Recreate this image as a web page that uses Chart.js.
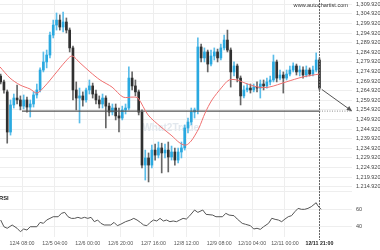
<!DOCTYPE html>
<html>
<head>
<meta charset="utf-8">
<script src="https://cdn.jsdelivr.net/npm/chart.js@4.4.0/dist/chart.umd.min.js"></script>
<style>
  html, body { margin: 0; padding: 0; background: #fff; }
  #wrap { position: relative; width: 380px; height: 250px; overflow: hidden; }
  #price { position: absolute; left: 0; top: 0; }
  #rsi { position: absolute; left: 0; top: 188px; }
</style>
</head>
<body>
<div id="wrap">
  <canvas id="price" width="380" height="188"></canvas>
  <canvas id="rsi" width="380" height="62"></canvas>
</div>
<script>
// hours counted from 12/4 00:00, one candle every 2 hours
const candleHours = [-5,-3,-1,1,3,5,7,9,11,13,15,17,19,21,23,25,27,29,31,33,35,37,39,41,43,45,47,49,51,53,
  55,57,59,61,63,65,67,69,71,73,75,77,79,81,83,85,87,89,91,93,95,97,99,101,103,105,107,109,111,113,
  115,117,119,121,123,125,127,129,131,133,135,137,139,141,143,145,147,149,151,153,155,157,159,161,163,165,167,169,171,173,
  175,177,179,181,183,185,187,189];
const opens = [1272.6,1269.5,1264.3,1243.4,1257.5,1261.1,1260.1,1256.9,1260.1,1256.4,1258.0,1262.7,1265.3,1275.7,1279.9,
  1283.5,1293.9,1299.1,1301.7,1298.1,1300.7,1296.5,1287.2,1265.3,1261.1,1262.2,1260.1,1265.3,1267.4,1263.2,
  1260.1,1258.0,1261.1,1256.9,1253.8,1255.9,1251.8,1250.7,1254.9,1255.9,1271.5,1267.4,1264.3,1253.8,1226.2,
  1229.9,1226.2,1234.0,1231.4,1235.1,1232.5,1234.0,1230.4,1233.0,1228.8,1233.0,1235.1,1245.5,1248.6,1253.8,
  1254.9,1287.7,1282.0,1285.1,1278.8,1283.0,1285.1,1282.0,1287.2,1291.3,1286.1,1274.7,1277.8,1271.5,1262.2,
  1265.3,1266.3,1265.3,1266.8,1266.3,1268.4,1267.4,1269.5,1270.5,1279.9,1271.5,1273.1,1271.5,1273.6,1275.7,
  1277.8,1274.7,1275.7,1273.1,1275.7,1273.6,1275.7,1280.9];
const highs = [1273.6,1270.5,1265.3,1260.1,1263.2,1267.9,1262.2,1262.7,1261.6,1260.1,1264.3,1268.4,1276.8,1285.1,1286.1,
  1295.5,1301.7,1305.4,1304.4,1305.9,1302.8,1297.6,1288.2,1269.5,1266.3,1264.3,1266.3,1270.5,1268.9,1265.3,
  1262.2,1263.2,1262.2,1258.5,1258.0,1258.0,1255.9,1256.9,1258.0,1277.3,1274.7,1270.5,1265.3,1254.9,1234.0,
  1232.5,1236.6,1237.1,1238.2,1237.6,1237.1,1238.2,1236.1,1235.1,1235.1,1238.2,1247.1,1250.7,1255.9,1255.9,
  1292.4,1289.2,1287.2,1286.1,1286.1,1287.2,1286.6,1289.2,1293.9,1296.5,1287.2,1279.9,1278.8,1272.6,1267.4,
  1268.4,1268.4,1268.4,1269.5,1270.5,1270.5,1271.5,1272.6,1283.5,1280.9,1275.7,1274.7,1275.7,1277.8,1279.4,
  1278.8,1277.8,1277.3,1277.8,1276.8,1277.8,1284.6,1282.0];
const lows = [1268.4,1263.7,1237.6,1241.8,1255.9,1258.0,1254.9,1255.4,1253.8,1251.2,1256.4,1261.1,1264.3,1274.7,1276.8,
  1282.0,1292.4,1296.5,1296.5,1295.5,1295.0,1285.1,1260.1,1254.9,1248.1,1256.9,1259.0,1263.2,1261.1,1258.0,
  1255.9,1255.9,1245.5,1251.8,1252.3,1249.7,1243.4,1249.7,1252.8,1254.9,1265.3,1262.2,1252.3,1224.7,1218.4,
  1217.4,1224.7,1228.8,1229.9,1222.1,1229.9,1222.6,1228.8,1226.2,1227.3,1229.9,1234.0,1242.9,1247.1,1250.7,
  1252.8,1279.9,1279.9,1274.7,1277.8,1280.9,1279.9,1280.9,1286.1,1285.1,1266.8,1272.6,1269.5,1257.5,1261.1,
  1264.3,1263.7,1264.3,1264.3,1261.1,1265.3,1266.3,1267.9,1269.5,1269.5,1270.5,1263.7,1270.5,1272.6,1274.7,
  1273.1,1272.6,1271.5,1272.1,1272.6,1272.6,1274.7,1265.3];
const closes = [1269.5,1265.3,1243.4,1257.5,1261.1,1260.1,1256.9,1260.1,1256.4,1258.0,1262.7,1265.3,1275.7,1279.9,1283.5,
  1293.9,1299.1,1301.7,1298.1,1300.7,1296.5,1287.2,1265.3,1261.1,1262.2,1260.1,1265.3,1267.4,1263.2,1260.1,
  1258.0,1261.1,1256.9,1253.8,1255.9,1251.8,1250.7,1254.9,1255.9,1271.5,1267.4,1264.3,1253.8,1226.2,1229.9,
  1226.2,1234.0,1231.4,1235.1,1232.5,1234.0,1230.4,1233.0,1228.8,1233.0,1235.1,1245.5,1248.6,1253.8,1254.9,
  1287.7,1282.0,1285.1,1278.8,1283.0,1285.1,1282.0,1287.2,1291.3,1286.1,1274.7,1277.8,1271.5,1262.2,1265.3,
  1266.3,1265.3,1266.8,1266.3,1268.4,1267.4,1269.5,1270.5,1279.9,1271.5,1273.1,1271.5,1273.6,1275.7,1277.8,
  1274.7,1275.7,1273.1,1275.7,1273.6,1275.7,1280.9,1266.3];

// red moving average
const maHours = [-5.4,0.7,6.8,12.9,17.1,22.0,28.1,34.2,38.4,43.3,49.4,55.5,62.8,69.5,75.6,78.6,84.7,92.6,98.7,
  104.2,107.8,110.9,113.3,115.7,119.4,123.6,129.7,134.0,138.9,143.7,151.6,158.3,168.7,179.0,188.8];
const maValues = [1277.3,1271.5,1267.9,1265.8,1263.7,1267.4,1273.6,1279.9,1283.0,1279.4,1274.7,1270.5,1266.8,1261.6,
  1261.6,1261.1,1252.3,1246.0,1241.8,1237.6,1236.6,1238.7,1241.8,1245.5,1253.3,1260.1,1266.8,1270.5,1270.5,
  1268.9,1266.8,1266.8,1269.5,1272.1,1273.6];

const rsiHours = [-5,-3,-1,2,5,7,9,11,13,17,19,21,23,25,27,30,32,34,36,38,40,42,44,46,48,50,52,54,56,58,62,64,66,68,
  71,74,76,78,80,82,84,86,88,90,92,94,96,98,100,102,104,106,108,110,113,115,118,120,124,126,130,132,134,137,
  139,142,144,147,149,151,153,155,158,160,162,164,166,168,170,172,174,176,178,180,182,184,187,188,190];
const rsiValues = [47.7,40,38.2,42,38.2,34.3,37.4,36.2,40,40,45,43.9,47.7,49.6,51.5,51.5,55.4,56.5,51.5,49.6,49.6,
  50.8,49.6,50.8,49.6,50.8,45.8,47.7,43.9,42,42,45,41.2,42.8,45.8,47.7,49.6,47.7,45,42,41.2,45,47.7,46.6,49.6,
  46.6,47.7,45.8,46.6,45.8,47.7,49.6,48.8,52.5,59.2,56.5,59.2,54.2,53.4,51.5,51.5,55.4,53.4,52.7,48.8,43.9,
  42.8,41.2,37.4,38.2,37.0,40.0,43.9,49.7,48.5,47.7,45.8,48.8,51.5,52.7,57.2,61.1,60,60,61.1,63,67.6,64.1,60];

const priceTicks = [1214.92,1219.92,1224.92,1229.92,1234.92,1239.92,1244.92,1249.92,1254.92,1259.92,1264.92,
  1269.92,1274.92,1279.92,1284.92,1289.92,1294.92,1299.92,1304.92,1309.92];
const rsiTicks = [40, 60, 80];
const timeTickHours = [8, 28, 48, 68, 88, 108, 128, 148, 168, 189];
const timeTickLabels = ['12/4 08:00','12/5 04:00','12/6 00:00','12/6 20:00','12/7 16:00','12/8 12:00',
  '12/9 08:00','12/10 04:00','12/11 00:00','12/11 21:00'];

const supportLevel = 1254.3;
const supportStart = 8, lastHour = 189, forecastEnd = 208.8;
const arrowHours = [190.4, 208.7];
const arrowPrices = [1265.6, 1254.35];

const FONT = "'Liberation Sans', Arial, sans-serif";
const X_MIN = -5.4, X_MAX = 208.8;
const AXIS_W = 28;
const UP = '#2aa9e0', DOWN = '#303030';
const GRID = '#eeeeee';

function fmtPrice(v) {
  return v.toLocaleString('en-US', { minimumFractionDigits: 3, maximumFractionDigits: 3 });
}

function xScale(showLabels) {
  return {
    type: 'linear', min: X_MIN, max: X_MAX, offset: false,
    afterBuildTicks: s => { s.ticks = timeTickHours.map(v => ({ value: v })); },
    afterFit: s => { s.height = showLabels ? 13 : 0; s.paddingLeft = 0; s.paddingRight = 0; },
    grid: { color: GRID, drawTicks: false, offset: false },
    border: { display: false },
    ticks: {
      display: showLabels, autoSkip: false, maxRotation: 0, padding: 3,
      callback: (v, i) => timeTickLabels[i],
      color: ctx => ctx.index === timeTickHours.length - 1 ? '#222' : '#555',
      font: ctx => ({ family: FONT, size: 5.3, weight: ctx.index === timeTickHours.length - 1 ? 'bold' : 'normal' })
    }
  };
}

function yScale(min, max, ticks, fmt) {
  return {
    position: 'right', min: min, max: max,
    afterBuildTicks: s => { s.ticks = ticks.map(v => ({ value: v })); },
    afterFit: s => { s.width = AXIS_W; s.paddingTop = 0; s.paddingBottom = 0; },
    grid: { color: GRID, drawTicks: false },
    border: { display: false },
    ticks: { autoSkip: false, padding: 4, color: '#444', font: { family: FONT, size: 5.5 }, callback: fmt }
  };
}

const priceDecor = {
  id: 'priceDecor',
  beforeDatasetsDraw(chart) {
    const { ctx, chartArea } = chart;
    ctx.save();
    ctx.font = `bold 10px ${FONT}`;
    ctx.fillStyle = '#e2e8ee';
    ctx.textAlign = 'center';
    ctx.textBaseline = 'middle';
    ctx.fillText('What2Trade', chartArea.left + chartArea.width * 0.485, chartArea.top + chartArea.height * 0.68);
    ctx.restore();
  },
  afterDatasetsDraw(chart) {
    const { ctx, chartArea, scales } = chart;
    const vx = Math.round(scales.x.getPixelForValue(lastHour)) + 0.5;
    ctx.save();
    ctx.strokeStyle = '#666';
    ctx.lineWidth = 1;
    ctx.setLineDash([2, 1]);
    ctx.beginPath();
    ctx.moveTo(vx, chartArea.top);
    ctx.lineTo(vx, chartArea.bottom);
    ctx.stroke();
    ctx.setLineDash([]);
    // arrow head
    const x0 = scales.x.getPixelForValue(arrowHours[0]), y0 = scales.y.getPixelForValue(arrowPrices[0]);
    const x1 = scales.x.getPixelForValue(arrowHours[1]), y1 = scales.y.getPixelForValue(arrowPrices[1]);
    const a = Math.atan2(y1 - y0, x1 - x0);
    ctx.fillStyle = '#555';
    ctx.beginPath();
    ctx.moveTo(x1, y1);
    ctx.lineTo(x1 - 5 * Math.cos(a) + 2.5 * Math.sin(a), y1 - 5 * Math.sin(a) - 2.5 * Math.cos(a));
    ctx.lineTo(x1 - 5 * Math.cos(a) - 2.5 * Math.sin(a), y1 - 5 * Math.sin(a) + 2.5 * Math.cos(a));
    ctx.closePath();
    ctx.fill();
    ctx.font = `5.6px ${FONT}`;
    ctx.fillStyle = '#333';
    ctx.textAlign = 'right';
    ctx.textBaseline = 'middle';
    ctx.fillText('www.autochartist.com', chartArea.right - 4, chartArea.top + 5);
    ctx.restore();
  }
};

const rsiDecor = {
  id: 'rsiDecor',
  afterDatasetsDraw(chart) {
    const { ctx, chartArea, scales } = chart;
    const vx = Math.round(scales.x.getPixelForValue(lastHour)) + 0.5;
    ctx.save();
    ctx.strokeStyle = '#666';
    ctx.lineWidth = 1;
    ctx.setLineDash([2, 1]);
    ctx.beginPath();
    ctx.moveTo(vx, 0);
    ctx.lineTo(vx, chartArea.bottom + 3);
    ctx.stroke();
    ctx.setLineDash([]);
    ctx.font = `bold 5.8px ${FONT}`;
    ctx.fillStyle = '#222';
    ctx.textAlign = 'left';
    ctx.textBaseline = 'middle';
    ctx.fillText('RSI', -1, 10);
    ctx.restore();
  }
};

new Chart(document.getElementById('price'), {
  type: 'bar',
  data: {
    datasets: [
      {
        type: 'line', order: 0,
        data: maHours.map((h, i) => ({ x: h, y: maValues[i] })),
        borderColor: '#f07070', borderWidth: 1, pointRadius: 0, tension: 0.3
      },
      {
        type: 'line', order: 0,
        data: [{ x: supportStart, y: supportLevel }, { x: lastHour, y: supportLevel }],
        borderColor: '#555', borderWidth: 1.4, pointRadius: 0
      },
      {
        type: 'line', order: 0,
        data: [{ x: lastHour, y: supportLevel }, { x: forecastEnd, y: supportLevel }],
        borderColor: '#888', borderWidth: 1, borderDash: [1, 1.5], pointRadius: 0
      },
      {
        type: 'line', order: 0,
        data: arrowHours.map((h, i) => ({ x: h, y: arrowPrices[i] })),
        borderColor: '#555', borderWidth: 1, pointRadius: 0
      },
      {
        order: 1, grouped: false, barThickness: 2, borderWidth: 0,
        data: candleHours.map((h, i) => ({ x: h, y: [opens[i], closes[i]] })),
        backgroundColor: ctx => closes[ctx.dataIndex] >= opens[ctx.dataIndex] ? UP : DOWN
      },
      {
        order: 2, grouped: false, barThickness: 1, borderWidth: 0,
        data: candleHours.map((h, i) => ({ x: h, y: [lows[i], highs[i]] })),
        backgroundColor: ctx => closes[ctx.dataIndex] >= opens[ctx.dataIndex] ? '#5bbde9' : '#666'
      }
    ]
  },
  options: {
    responsive: false, animation: false,
    layout: { padding: 0 },
    plugins: { legend: { display: false }, tooltip: { enabled: false } },
    scales: {
      x: xScale(false),
      y: yScale(1214.25, 1312.16, priceTicks, v => fmtPrice(v))
    }
  },
  plugins: [priceDecor]
});

new Chart(document.getElementById('rsi'), {
  type: 'line',
  data: {
    datasets: [{
      data: rsiHours.map((h, i) => ({ x: h, y: rsiValues[i] })),
      borderColor: '#555', borderWidth: 1, pointRadius: 0, tension: 0
    }]
  },
  options: {
    responsive: false, animation: false,
    layout: { padding: 0 },
    plugins: { legend: { display: false }, tooltip: { enabled: false } },
    scales: {
      x: xScale(true),
      y: yScale(28.2, 84.5, rsiTicks, v => v === 80 ? '' : String(v))
    }
  },
  plugins: [rsiDecor]
});
</script>
</body>
</html>
